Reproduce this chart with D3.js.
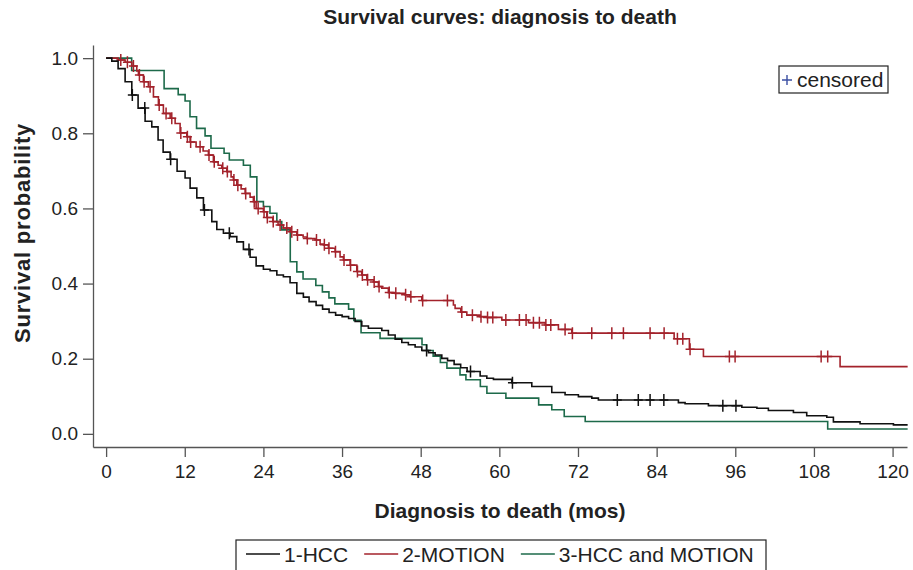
<!DOCTYPE html>
<html>
<head>
<meta charset="utf-8">
<script src="https://cdn.jsdelivr.net/npm/d3@7"></script>
<style>
  body { margin: 0; background: #fff; }
  svg { display: block; font-family: "Liberation Sans", Arial, Helvetica, sans-serif; }
</style>
</head>
<body>
<svg id="chart"></svg>
<script>
const width = 913;
const height = 570;

// Kaplan-Meier steps: time (months) -> survival after the step
const hccTimes = [0, 0.87, 1.83, 2.90, 3.92, 4.88, 5.95, 6.97, 7.93, 8.70, 9.77, 10.83, 12.05, 12.82, 13.84, 14.85, 16.13, 16.89, 17.90, 18.92,
  19.94, 20.95, 21.97, 22.89, 24.00, 25.02, 26.05, 27.05, 28.07, 29.10, 30.10, 30.97, 32.04, 33.03, 34.02, 35.02, 36.01, 37.00, 37.99, 39.01,
  40.02, 42.07, 43.07, 44.10, 45.12, 46.12, 47.15, 48.17, 49.18, 50.20, 51.22, 52.10, 53.10, 54.10, 55.08, 57.07, 58.09, 59.10, 61.90, 64.95,
  68.00, 70.03, 72.06, 74.11, 75.11, 87.32, 88.34, 91.90, 97.00, 99.30, 101.05, 104.87, 106.90, 109.96, 110.97, 115.04, 120.13];
const hccSurv = [1, 0.992, 0.972, 0.937, 0.902, 0.867, 0.832, 0.817, 0.782, 0.750, 0.731, 0.699, 0.681, 0.654, 0.628, 0.596, 0.565, 0.544, 0.534, 0.525,
  0.511, 0.491, 0.470, 0.447, 0.438, 0.434, 0.423, 0.418, 0.402, 0.374, 0.364, 0.352, 0.342, 0.332, 0.323, 0.316, 0.312, 0.307, 0.299, 0.287,
  0.281, 0.275, 0.263, 0.252, 0.243, 0.237, 0.231, 0.222, 0.216, 0.210, 0.201, 0.195, 0.185, 0.176, 0.166, 0.154, 0.148, 0.145, 0.136, 0.126,
  0.110, 0.104, 0.099, 0.095, 0.090, 0.083, 0.080, 0.075, 0.071, 0.068, 0.062, 0.057, 0.048, 0.044, 0.032, 0.027, 0.024];
const hccCensored = [4.0, 5.9, 9.85, 15.0, 18.8, 21.8, 48.9, 55.6, 62.0, 78.0, 81.2, 83.0, 85.1, 94.1, 96.1];

const motionTimes = [0, 1.83, 2.90, 3.92, 4.68, 4.93, 5.69, 6.45, 7.22, 7.98, 8.74, 9.77, 10.53, 11.29, 12.31, 12.82, 13.73, 14.80, 15.61, 16.37,
  17.09, 17.65, 18.42, 19.07, 19.42, 19.94, 20.60, 21.21, 21.97, 22.47, 22.89, 24.00, 24.52, 25.43, 26.24, 27.05, 28.07, 29.10, 30.06, 30.62,
  31.89, 32.65, 33.16, 33.92, 34.94, 35.70, 36.21, 37.23, 38.25, 39.01, 39.78, 40.78, 41.55, 42.07, 43.07, 44.10, 45.62, 46.38, 48.17, 52.99,
  53.25, 54.12, 55.04, 57.07, 58.09, 60.38, 64.44, 66.98, 69.01, 71.06, 86.67, 89.00, 91.14, 111.99];
const motionSurv = [1, 0.995, 0.989, 0.979, 0.966, 0.955, 0.937, 0.924, 0.897, 0.875, 0.853, 0.840, 0.826, 0.801, 0.791, 0.777, 0.764, 0.753, 0.742, 0.724,
  0.715, 0.707, 0.698, 0.684, 0.676, 0.662, 0.652, 0.640, 0.630, 0.618, 0.600, 0.591, 0.576, 0.565, 0.556, 0.548, 0.538, 0.529, 0.524, 0.520,
  0.516, 0.505, 0.503, 0.494, 0.485, 0.471, 0.463, 0.449, 0.432, 0.423, 0.410, 0.404, 0.392, 0.388, 0.376, 0.374, 0.370, 0.365, 0.355, 0.343,
  0.334, 0.324, 0.316, 0.312, 0.310, 0.303, 0.296, 0.290, 0.278, 0.268, 0.253, 0.225, 0.206, 0.179];
const motionCensored = [2.24, 3.25, 4.17, 5.08, 5.8, 6.71, 8.1, 9.15, 10.02, 11.4, 12.4, 12.9, 14.34, 15.7, 16.5, 17.8, 18.5, 19.5, 20.1, 21.3,
  22.6, 23.2, 24.1, 24.6, 25.5, 26.55, 27.57, 28.33, 29.2, 30.7, 32.1, 33.3, 34.0, 35.0, 36.3, 37.3, 38.35, 39.1, 39.9, 40.9,
  41.65, 43.2, 44.2, 45.7, 46.5, 48.3, 52.08, 54.27, 55.89, 57.2, 58.2, 59.0, 60.99, 63.06, 64.08, 65.2, 66.11, 67.1, 67.85, 70.03,
  71.15, 74.1, 77.16, 78.93, 83.0, 85.14, 87.17, 87.99, 89.1, 95.1, 95.97, 109.1, 110.1];

const bothTimes = [0, 3.9, 8.85, 11.0, 12.05, 12.8, 13.8, 15.1, 16.0, 18.0, 18.8, 20.95, 22.0, 23.0, 24.0, 25.0, 26.05, 26.8, 28.1, 29.1,
  30.05, 32.0, 33.0, 34.0, 34.9, 37.0, 37.8, 38.9, 41.8, 48.2, 48.9, 49.9, 51.0, 52.0, 54.0, 54.9, 57.1, 58.1, 61.0, 66.0,
  68.0, 69.9, 73.1, 110.1];
const bothSurv = [1, 0.967, 0.919, 0.903, 0.886, 0.844, 0.813, 0.793, 0.760, 0.747, 0.729, 0.715, 0.684, 0.618, 0.605, 0.587, 0.565, 0.543, 0.458, 0.431,
  0.412, 0.395, 0.378, 0.362, 0.346, 0.332, 0.302, 0.269, 0.254, 0.237, 0.222, 0.207, 0.190, 0.175, 0.157, 0.144, 0.126, 0.108, 0.095, 0.077,
  0.064, 0.046, 0.033, 0.013];
const bothCensored = [];

const followUpEnd = 122.3;
const groupNames = ["1-HCC", "2-MOTION", "3-HCC and MOTION"];
const groupColors = ["#111111", "#a3222b", "#1d6a4a"];
const xTicks = [0, 12, 24, 36, 48, 60, 72, 84, 96, 108, 120];
const yTicks = [0, 0.2, 0.4, 0.6, 0.8, 1.0];

const groups = [
  { name: groupNames[0], color: groupColors[0], times: hccTimes, surv: hccSurv, cens: hccCensored },
  { name: groupNames[1], color: groupColors[1], times: motionTimes, surv: motionSurv, cens: motionCensored },
  { name: groupNames[2], color: groupColors[2], times: bothTimes, surv: bothSurv, cens: bothCensored }
];

const svg = d3.select("#chart").attr("width", width).attr("height", height);

const x = d3.scaleLinear().domain([-2, 122.2]).range([93, 907]);
const y = d3.scaleLinear().domain([-0.035, 1.035]).range([447, 45]);

const axisColor = "#555";
const textColor = "#222";

// axes
const xAxis = svg.append("g")
  .attr("transform", "translate(0,447)")
  .call(d3.axisBottom(x).tickValues(xTicks).tickSize(10).tickSizeOuter(0).tickPadding(8));
const yAxis = svg.append("g")
  .attr("transform", "translate(93,0)")
  .call(d3.axisLeft(y).tickValues(yTicks).tickFormat(d3.format(".1f")).tickSize(10).tickSizeOuter(0).tickPadding(5));

[xAxis, yAxis].forEach(g => {
  g.selectAll("path, line").attr("stroke", axisColor).attr("stroke-width", 1.3);
  g.selectAll("text").attr("fill", textColor).attr("font-size", "19px").attr("font-family", null);
});

// curves
const stepLine = d3.line()
  .x(d => x(d[0]))
  .y(d => y(d[1]))
  .curve(d3.curveStepAfter);

function survAt(g, t) {
  const i = d3.bisectRight(g.times, t) - 1;
  return g.surv[Math.max(0, i)];
}

// draw green first, then red, then black on top
[groups[2], groups[1], groups[0]].forEach(g => {
  const pts = g.times.map((t, i) => [t, g.surv[i]]);
  pts.push([followUpEnd, g.surv[g.surv.length - 1]]);
  svg.append("path")
    .datum(pts)
    .attr("fill", "none")
    .attr("stroke", g.color)
    .attr("stroke-width", 1.6)
    .attr("d", stepLine);

  svg.append("g")
    .selectAll("path")
    .data(g.cens)
    .enter()
    .append("path")
    .attr("transform", t => `translate(${x(t)},${y(survAt(g, t))})`)
    .attr("d", "M-4.5,0H4.5M0,-6V6")
    .attr("stroke", g.color)
    .attr("stroke-width", 1.5);
});

// title and axis labels
svg.append("text")
  .attr("x", 500).attr("y", 24)
  .attr("text-anchor", "middle")
  .attr("font-size", "21px").attr("font-weight", "bold").attr("fill", textColor)
  .text("Survival curves: diagnosis to death");

svg.append("text")
  .attr("x", 500).attr("y", 518)
  .attr("text-anchor", "middle")
  .attr("font-size", "21px").attr("font-weight", "bold").attr("fill", textColor)
  .text("Diagnosis to death (mos)");

svg.append("text")
  .attr("transform", "translate(30,233) rotate(-90)")
  .attr("text-anchor", "middle")
  .attr("font-size", "22px").attr("font-weight", "bold").attr("fill", textColor)
  .attr("letter-spacing", "0.8px")
  .text("Survival probability");

// censored key
const ck = svg.append("g");
ck.append("rect")
  .attr("x", 779).attr("y", 66).attr("width", 109).attr("height", 27)
  .attr("fill", "#fff").attr("stroke", "#222").attr("stroke-width", 1.2);
ck.append("path")
  .attr("d", "M782,80H792M787,75V85")
  .attr("stroke", "#3b4fa3").attr("stroke-width", 1.4);
ck.append("text")
  .attr("x", 797).attr("y", 87)
  .attr("font-size", "21px").attr("fill", textColor)
  .text("censored");

// legend at the bottom
const leg = svg.append("g");
leg.append("rect")
  .attr("x", 236).attr("y", 540).attr("width", 530).attr("height", 45)
  .attr("fill", "#fff").attr("stroke", "#222").attr("stroke-width", 1.2);

let lx = 246;
groups.forEach(g => {
  leg.append("line")
    .attr("x1", lx).attr("x2", lx + 34).attr("y1", 554).attr("y2", 554)
    .attr("stroke", g.color).attr("stroke-width", 1.5);
  const t = leg.append("text")
    .attr("x", lx + 38).attr("y", 562)
    .attr("font-size", "21px").attr("fill", textColor)
    .text(g.name);
  lx += 38 + t.node().getComputedTextLength() + 16;
});
</script>
</body>
</html>
